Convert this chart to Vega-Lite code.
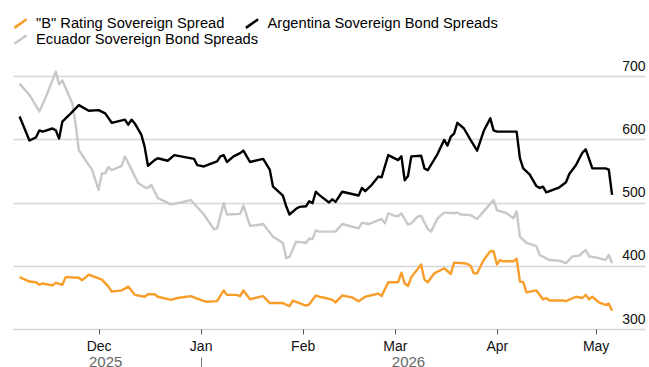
{
  "$schema": "https://vega.github.io/schema/vega-lite/v6.json",
  "width": 632,
  "height": 253,
  "autosize": {"type": "none"},
  "padding": {"left": 13, "top": 76, "right": 4, "bottom": 38},
  "config": {"font": "Liberation Sans", "view": {"stroke": null}},
  "datasets": {
    "ecu": [
      {"date": "2025-11-07", "value": 688}, {"date": "2025-11-10", "value": 670}, {"date": "2025-11-13", "value": 644},
      {"date": "2025-11-15", "value": 667}, {"date": "2025-11-18", "value": 707}, {"date": "2025-11-19", "value": 687},
      {"date": "2025-11-20", "value": 693}, {"date": "2025-11-23", "value": 657}, {"date": "2025-11-24", "value": 625},
      {"date": "2025-11-25", "value": 583}, {"date": "2025-11-27", "value": 567}, {"date": "2025-11-29", "value": 552},
      {"date": "2025-12-01", "value": 520}, {"date": "2025-12-02", "value": 546}, {"date": "2025-12-03", "value": 546},
      {"date": "2025-12-04", "value": 556}, {"date": "2025-12-05", "value": 551}, {"date": "2025-12-08", "value": 558},
      {"date": "2025-12-09", "value": 573}, {"date": "2025-12-11", "value": 552}, {"date": "2025-12-13", "value": 531},
      {"date": "2025-12-15", "value": 524}, {"date": "2025-12-16", "value": 523}, {"date": "2025-12-17", "value": 528},
      {"date": "2025-12-19", "value": 507}, {"date": "2025-12-23", "value": 497}, {"date": "2025-12-26", "value": 500},
      {"date": "2025-12-29", "value": 504}, {"date": "2026-01-02", "value": 481}, {"date": "2026-01-05", "value": 458},
      {"date": "2026-01-06", "value": 459}, {"date": "2026-01-08", "value": 499}, {"date": "2026-01-09", "value": 481},
      {"date": "2026-01-13", "value": 482}, {"date": "2026-01-14", "value": 495}, {"date": "2026-01-16", "value": 463},
      {"date": "2026-01-18", "value": 464}, {"date": "2026-01-20", "value": 466}, {"date": "2026-01-23", "value": 446},
      {"date": "2026-01-26", "value": 436}, {"date": "2026-01-27", "value": 412}, {"date": "2026-01-28", "value": 414},
      {"date": "2026-01-30", "value": 438}, {"date": "2026-02-01", "value": 437}, {"date": "2026-02-02", "value": 436},
      {"date": "2026-02-03", "value": 443}, {"date": "2026-02-04", "value": 442}, {"date": "2026-02-05", "value": 456},
      {"date": "2026-02-06", "value": 454}, {"date": "2026-02-11", "value": 454}, {"date": "2026-02-13", "value": 466},
      {"date": "2026-02-18", "value": 459}, {"date": "2026-02-19", "value": 468}, {"date": "2026-02-21", "value": 466},
      {"date": "2026-02-25", "value": 474}, {"date": "2026-02-26", "value": 467}, {"date": "2026-02-27", "value": 483},
      {"date": "2026-03-01", "value": 479}, {"date": "2026-03-02", "value": 478}, {"date": "2026-03-03", "value": 483},
      {"date": "2026-03-05", "value": 465}, {"date": "2026-03-06", "value": 467}, {"date": "2026-03-08", "value": 478},
      {"date": "2026-03-09", "value": 479}, {"date": "2026-03-11", "value": 458}, {"date": "2026-03-12", "value": 454},
      {"date": "2026-03-14", "value": 475}, {"date": "2026-03-16", "value": 484}, {"date": "2026-03-19", "value": 483},
      {"date": "2026-03-20", "value": 484}, {"date": "2026-03-21", "value": 481}, {"date": "2026-03-24", "value": 480},
      {"date": "2026-03-26", "value": 474}, {"date": "2026-03-28", "value": 486}, {"date": "2026-03-31", "value": 504},
      {"date": "2026-04-01", "value": 488}, {"date": "2026-04-04", "value": 483}, {"date": "2026-04-06", "value": 475},
      {"date": "2026-04-07", "value": 486}, {"date": "2026-04-08", "value": 446}, {"date": "2026-04-10", "value": 436},
      {"date": "2026-04-13", "value": 431}, {"date": "2026-04-14", "value": 417}, {"date": "2026-04-17", "value": 409},
      {"date": "2026-04-20", "value": 408}, {"date": "2026-04-22", "value": 404}, {"date": "2026-04-24", "value": 415},
      {"date": "2026-04-26", "value": 416}, {"date": "2026-04-28", "value": 425}, {"date": "2026-04-29", "value": 415},
      {"date": "2026-05-02", "value": 412}, {"date": "2026-05-04", "value": 409}, {"date": "2026-05-05", "value": 417},
      {"date": "2026-05-06", "value": 404}
    ],
    "arg": [
      {"date": "2025-11-07", "value": 636}, {"date": "2025-11-10", "value": 598}, {"date": "2025-11-12", "value": 603},
      {"date": "2025-11-13", "value": 614}, {"date": "2025-11-14", "value": 612}, {"date": "2025-11-17", "value": 617},
      {"date": "2025-11-18", "value": 614}, {"date": "2025-11-19", "value": 601}, {"date": "2025-11-20", "value": 628},
      {"date": "2025-11-22", "value": 638}, {"date": "2025-11-25", "value": 654}, {"date": "2025-11-28", "value": 645},
      {"date": "2025-12-01", "value": 646}, {"date": "2025-12-03", "value": 641}, {"date": "2025-12-05", "value": 626},
      {"date": "2025-12-09", "value": 631}, {"date": "2025-12-10", "value": 623}, {"date": "2025-12-11", "value": 631},
      {"date": "2025-12-12", "value": 625}, {"date": "2025-12-14", "value": 607}, {"date": "2025-12-15", "value": 588},
      {"date": "2025-12-16", "value": 558}, {"date": "2025-12-18", "value": 567}, {"date": "2025-12-19", "value": 570},
      {"date": "2025-12-22", "value": 566}, {"date": "2025-12-24", "value": 575}, {"date": "2025-12-26", "value": 573},
      {"date": "2025-12-30", "value": 569}, {"date": "2025-12-31", "value": 559}, {"date": "2026-01-02", "value": 557},
      {"date": "2026-01-06", "value": 565}, {"date": "2026-01-07", "value": 573}, {"date": "2026-01-08", "value": 575},
      {"date": "2026-01-09", "value": 564}, {"date": "2026-01-11", "value": 573}, {"date": "2026-01-13", "value": 578},
      {"date": "2026-01-14", "value": 582}, {"date": "2026-01-16", "value": 564}, {"date": "2026-01-20", "value": 569},
      {"date": "2026-01-22", "value": 552}, {"date": "2026-01-23", "value": 525}, {"date": "2026-01-26", "value": 511},
      {"date": "2026-01-27", "value": 494}, {"date": "2026-01-28", "value": 481}, {"date": "2026-01-30", "value": 490},
      {"date": "2026-01-31", "value": 493}, {"date": "2026-02-02", "value": 494}, {"date": "2026-02-03", "value": 502},
      {"date": "2026-02-04", "value": 499}, {"date": "2026-02-05", "value": 517}, {"date": "2026-02-06", "value": 512},
      {"date": "2026-02-09", "value": 500}, {"date": "2026-02-10", "value": 505}, {"date": "2026-02-11", "value": 501},
      {"date": "2026-02-13", "value": 517}, {"date": "2026-02-18", "value": 511}, {"date": "2026-02-19", "value": 523},
      {"date": "2026-02-20", "value": 518}, {"date": "2026-02-22", "value": 528}, {"date": "2026-02-24", "value": 541},
      {"date": "2026-02-25", "value": 540}, {"date": "2026-02-27", "value": 575}, {"date": "2026-03-02", "value": 567},
      {"date": "2026-03-03", "value": 573}, {"date": "2026-03-04", "value": 535}, {"date": "2026-03-05", "value": 542},
      {"date": "2026-03-06", "value": 573}, {"date": "2026-03-09", "value": 574}, {"date": "2026-03-10", "value": 554},
      {"date": "2026-03-11", "value": 551}, {"date": "2026-03-14", "value": 577}, {"date": "2026-03-16", "value": 599},
      {"date": "2026-03-17", "value": 590}, {"date": "2026-03-18", "value": 604}, {"date": "2026-03-19", "value": 609},
      {"date": "2026-03-20", "value": 626}, {"date": "2026-03-22", "value": 617}, {"date": "2026-03-24", "value": 599},
      {"date": "2026-03-26", "value": 582}, {"date": "2026-03-28", "value": 613}, {"date": "2026-03-30", "value": 633},
      {"date": "2026-03-31", "value": 614}, {"date": "2026-04-01", "value": 612}, {"date": "2026-04-07", "value": 612},
      {"date": "2026-04-08", "value": 570}, {"date": "2026-04-09", "value": 554}, {"date": "2026-04-11", "value": 544},
      {"date": "2026-04-13", "value": 526}, {"date": "2026-04-14", "value": 523}, {"date": "2026-04-15", "value": 525},
      {"date": "2026-04-16", "value": 516}, {"date": "2026-04-20", "value": 524}, {"date": "2026-04-21", "value": 528},
      {"date": "2026-04-22", "value": 532}, {"date": "2026-04-23", "value": 545}, {"date": "2026-04-25", "value": 559},
      {"date": "2026-04-27", "value": 579}, {"date": "2026-04-28", "value": 584}, {"date": "2026-04-30", "value": 554},
      {"date": "2026-05-04", "value": 554}, {"date": "2026-05-05", "value": 552}, {"date": "2026-05-06", "value": 512}
    ],
    "brating": [
      {"date": "2025-11-07", "value": 382}, {"date": "2025-11-10", "value": 375}, {"date": "2025-11-12", "value": 374},
      {"date": "2025-11-13", "value": 370}, {"date": "2025-11-14", "value": 372}, {"date": "2025-11-17", "value": 369},
      {"date": "2025-11-18", "value": 373}, {"date": "2025-11-20", "value": 370}, {"date": "2025-11-21", "value": 382},
      {"date": "2025-11-25", "value": 381}, {"date": "2025-11-26", "value": 377}, {"date": "2025-11-28", "value": 386},
      {"date": "2025-11-30", "value": 382}, {"date": "2025-12-02", "value": 378}, {"date": "2025-12-04", "value": 367},
      {"date": "2025-12-05", "value": 359}, {"date": "2025-12-08", "value": 361}, {"date": "2025-12-10", "value": 367},
      {"date": "2025-12-12", "value": 354}, {"date": "2025-12-15", "value": 351}, {"date": "2025-12-16", "value": 355},
      {"date": "2025-12-18", "value": 355}, {"date": "2025-12-19", "value": 351}, {"date": "2025-12-23", "value": 346},
      {"date": "2025-12-25", "value": 349}, {"date": "2025-12-29", "value": 352}, {"date": "2026-01-02", "value": 344},
      {"date": "2026-01-03", "value": 343}, {"date": "2026-01-06", "value": 344}, {"date": "2026-01-08", "value": 361},
      {"date": "2026-01-09", "value": 354}, {"date": "2026-01-12", "value": 354}, {"date": "2026-01-13", "value": 352},
      {"date": "2026-01-14", "value": 361}, {"date": "2026-01-16", "value": 347}, {"date": "2026-01-20", "value": 352},
      {"date": "2026-01-22", "value": 341}, {"date": "2026-01-26", "value": 341}, {"date": "2026-01-28", "value": 336},
      {"date": "2026-01-29", "value": 345}, {"date": "2026-02-02", "value": 337}, {"date": "2026-02-03", "value": 339},
      {"date": "2026-02-05", "value": 353}, {"date": "2026-02-06", "value": 351}, {"date": "2026-02-08", "value": 349},
      {"date": "2026-02-10", "value": 346}, {"date": "2026-02-11", "value": 342}, {"date": "2026-02-13", "value": 353},
      {"date": "2026-02-16", "value": 350}, {"date": "2026-02-18", "value": 344}, {"date": "2026-02-20", "value": 351},
      {"date": "2026-02-24", "value": 356}, {"date": "2026-02-25", "value": 352}, {"date": "2026-02-27", "value": 374},
      {"date": "2026-03-02", "value": 374}, {"date": "2026-03-03", "value": 389}, {"date": "2026-03-04", "value": 372},
      {"date": "2026-03-05", "value": 368}, {"date": "2026-03-06", "value": 382}, {"date": "2026-03-09", "value": 402},
      {"date": "2026-03-10", "value": 378}, {"date": "2026-03-11", "value": 374}, {"date": "2026-03-13", "value": 388},
      {"date": "2026-03-16", "value": 396}, {"date": "2026-03-18", "value": 387}, {"date": "2026-03-19", "value": 405},
      {"date": "2026-03-22", "value": 404}, {"date": "2026-03-23", "value": 403}, {"date": "2026-03-24", "value": 400},
      {"date": "2026-03-25", "value": 388}, {"date": "2026-03-26", "value": 388}, {"date": "2026-03-28", "value": 409},
      {"date": "2026-03-30", "value": 423}, {"date": "2026-03-31", "value": 423}, {"date": "2026-04-01", "value": 402},
      {"date": "2026-04-02", "value": 409}, {"date": "2026-04-03", "value": 407}, {"date": "2026-04-06", "value": 407},
      {"date": "2026-04-07", "value": 411}, {"date": "2026-04-08", "value": 375}, {"date": "2026-04-09", "value": 374},
      {"date": "2026-04-10", "value": 358}, {"date": "2026-04-13", "value": 361}, {"date": "2026-04-15", "value": 347},
      {"date": "2026-04-16", "value": 349}, {"date": "2026-04-17", "value": 345}, {"date": "2026-04-21", "value": 345},
      {"date": "2026-04-22", "value": 344}, {"date": "2026-04-25", "value": 351}, {"date": "2026-04-27", "value": 349},
      {"date": "2026-04-28", "value": 354}, {"date": "2026-04-29", "value": 347}, {"date": "2026-04-30", "value": 351},
      {"date": "2026-05-02", "value": 342}, {"date": "2026-05-04", "value": 338}, {"date": "2026-05-05", "value": 340},
      {"date": "2026-05-06", "value": 329}
    ]
  },
  "encoding": {
    "y": {
      "field": "value",
      "type": "quantitative",
      "title": null,
      "scale": {"domain": [300, 700], "nice": false, "zero": false},
      "axis": {
        "orient": "right",
        "values": [300, 400, 500, 600, 700],
        "domain": false,
        "ticks": false,
        "grid": true,
        "gridColor": "#d6d6d6",
        "gridWidth": 1.3,
        "labelAlign": "right",
        "labelBaseline": "alphabetic",
        "labelPadding": 0,
        "labelOffset": -6,
        "labelFontSize": 14,
        "labelColor": "#111111",
        "title": null
      }
    }
  },
  "layer": [
    {
      "data": {"name": "ecu"},
      "mark": {"type": "line", "strokeWidth": 2.4, "strokeJoin": "round"},
      "encoding": {
        "x": {
          "field": "date",
          "type": "temporal",
          "title": null,
          "scale": {"type": "utc", "domain": [{"year": 2025, "month": 11, "date": 5, "utc": true}, {"year": 2026, "month": 5, "date": 16, "utc": true}]},
          "axis": {
            "orient": "bottom",
            "values": [
              {"year": 2025, "month": 12, "date": 1, "utc": true},
              {"year": 2026, "month": 1, "date": 1, "utc": true},
              {"year": 2026, "month": 2, "date": 1, "utc": true},
              {"year": 2026, "month": 3, "date": 1, "utc": true},
              {"year": 2026, "month": 4, "date": 1, "utc": true},
              {"year": 2026, "month": 5, "date": 1, "utc": true}
            ],
            "labelExpr": "utcFormat(datum.value, '%b')",
            "domain": false,
            "grid": false,
            "tickSize": 5,
            "tickColor": "#555555",
            "tickWidth": 1,
            "labelPadding": 5,
            "labelFontSize": 14,
            "labelColor": "#111111",
            "labelFlush": false,
            "labelOverlap": false,
            "title": null
          }
        },
        "stroke": {
          "datum": "Ecuador Sovereign Bond Spreads",
          "type": "nominal",
          "title": null,
          "scale": {"domain": ["Ecuador Sovereign Bond Spreads"], "range": ["#c8c8c8"]},
          "legend": {
            "title": null,
            "orient": "none",
            "legendX": 0,
            "legendY": -44,
            "direction": "horizontal",
            "symbolType": "M-1,0.7L1,-0.7",
            "symbolSize": 150,
            "symbolStrokeWidth": 2.5,
            "labelFontSize": 14.7,
            "labelColor": "#000000",
            "labelOffset": 8,
            "labelLimit": 400,
            "padding": 0
          }
        }
      }
    },
    {
      "data": {"name": "brating"},
      "mark": {"type": "line", "strokeWidth": 2.4, "strokeJoin": "round"},
      "encoding": {
        "x": {
          "field": "date",
          "type": "temporal",
          "title": null,
          "scale": {"type": "utc", "domain": [{"year": 2025, "month": 11, "date": 5, "utc": true}, {"year": 2026, "month": 5, "date": 16, "utc": true}]},
          "axis": null
        },
        "color": {
          "datum": "\"B\" Rating Sovereign Spread",
          "type": "nominal",
          "title": null,
          "scale": {
            "domain": ["\"B\" Rating Sovereign Spread", "Argentina Sovereign Bond Spreads"],
            "range": ["#f99d2a", "#000000"]
          },
          "legend": {
            "title": null,
            "orient": "none",
            "legendX": 0,
            "legendY": -60,
            "direction": "horizontal",
            "symbolType": "M-1,0.7L1,-0.7",
            "symbolSize": 150,
            "symbolStrokeWidth": 2.5,
            "labelFontSize": 14.7,
            "labelColor": "#000000",
            "labelOffset": 8,
            "labelLimit": 400,
            "columnPadding": 15.5,
            "padding": 0
          }
        }
      }
    },
    {
      "data": {"name": "arg"},
      "mark": {"type": "line", "strokeWidth": 2.4, "strokeJoin": "round"},
      "encoding": {
        "x": {
          "field": "date",
          "type": "temporal",
          "title": null,
          "scale": {"type": "utc", "domain": [{"year": 2025, "month": 11, "date": 5, "utc": true}, {"year": 2026, "month": 5, "date": 16, "utc": true}]},
          "axis": null
        },
        "color": {"datum": "Argentina Sovereign Bond Spreads", "type": "nominal", "title": null}
      }
    },
    {
      "data": {"name": "arg"},
      "mark": {"type": "point", "opacity": 0},
      "encoding": {
        "x": {
          "field": "date",
          "type": "temporal",
          "title": null,
          "scale": {"type": "utc", "domain": [{"year": 2025, "month": 11, "date": 5, "utc": true}, {"year": 2026, "month": 5, "date": 16, "utc": true}]},
          "axis": {
            "orient": "bottom",
            "values": [
              {"year": 2025, "month": 12, "date": 3, "utc": true},
              {"year": 2026, "month": 1, "date": 1, "utc": true},
              {"year": 2026, "month": 3, "date": 5, "utc": true}
            ],
            "labelExpr": "utcmonth(datum.value) == 0 ? '' : utcFormat(datum.value, '%Y')",
            "offset": 28,
            "domain": false,
            "grid": false,
            "tickSize": 10,
            "tickColor": "#777777",
            "tickWidth": 1,
            "tickOpacity": {"condition": {"test": "utcmonth(datum.value) == 0", "value": 1}, "value": 0},
            "labelPadding": -13,
            "labelFontSize": 15,
            "labelColor": "#666666",
            "labelFlush": false,
            "labelOverlap": false,
            "title": null
          }
        }
      }
    }
  ],
  "resolve": {"axis": {"x": "independent"}}
}
